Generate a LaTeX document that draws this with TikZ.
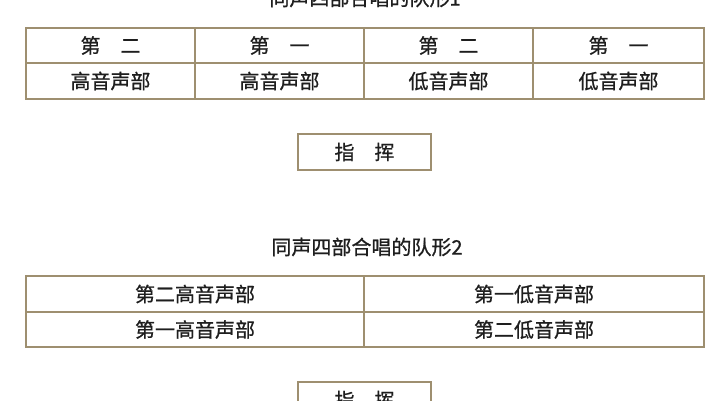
\documentclass[tikz,border=0pt]{standalone}
\usepackage{fontspec}
\setmainfont{Noto Sans CJK SC}[FakeBold=0.8]
\definecolor{bord}{HTML}{9E8F70}
\definecolor{ink}{HTML}{1E1E1E}
\begin{document}
\begin{tikzpicture}[x=1pt,y=-1pt,
  cell/.style={draw=bord,line width=1.6pt,fill=white,inner sep=0pt,text=ink,font=\fontsize{20}{20}\selectfont,anchor=center},
  ttl/.style={text=ink,font=\fontsize{20}{20}\selectfont,inner sep=0pt}]
\useasboundingbox[fill=white] (0,0) rectangle (723,400);
% title 1
\node[ttl] (t1) at (365,-2) {同声四部合唱的队形1};
% table 1
\foreach \i/\xa/\xb/\ta/\tb in {1/26/195/第　二/高音声部,2/195/364/第　一/高音声部,3/364/533/第　二/低音声部,4/533/704/第　一/低音声部}{
  \node[cell,minimum width={\xb-\xa},minimum height=35pt] (a\i) at ({(\xa+\xb)/2},45.5) {\ta};
  \node[cell,minimum width={\xb-\xa},minimum height=36pt] (b\i) at ({(\xa+\xb)/2},81) {\tb};
}
% conductor 1
\node[cell,minimum width=133pt,minimum height=36pt] (c1) at (364.5,152) {指　挥};
% title 2
\node[ttl] (t2) at (367,247) {同声四部合唱的队形2};
% table 2
\node[cell,minimum width=338pt,minimum height=36pt] (p1) at (195,294) {第二高音声部};
\node[cell,minimum width=340pt,minimum height=36pt] (p2) at (534,294) {第一低音声部};
\node[cell,minimum width=338pt,minimum height=35pt] (q1) at (195,329.5) {第一高音声部};
\node[cell,minimum width=340pt,minimum height=35pt] (q2) at (534,329.5) {第二低音声部};
% conductor 2
\node[cell,minimum width=133pt,minimum height=36pt] (c2) at (364.5,400) {指　挥};
\end{tikzpicture}
\end{document}
